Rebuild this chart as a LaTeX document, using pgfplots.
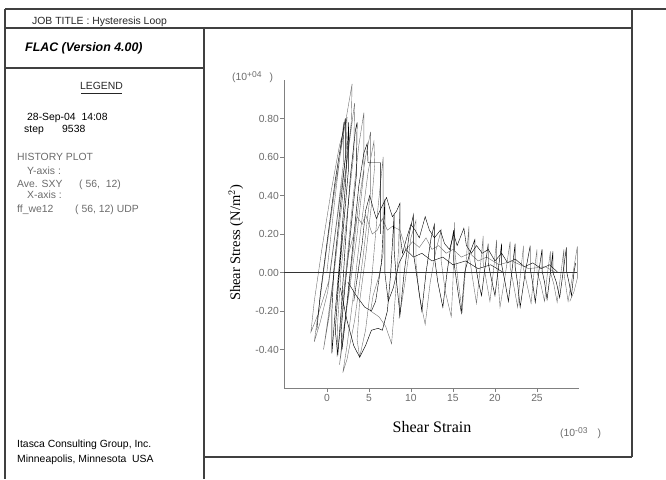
\documentclass[border=0pt]{standalone}
\usepackage{pgfplots}
\pgfplotsset{compat=1.18}
\usepackage{fontspec}
\setmainfont{Liberation Sans}
\newfontfamily\seriffont{Liberation Serif}
\definecolor{frame}{rgb}{0.25,0.25,0.25}
\definecolor{txtgray}{rgb}{0.42,0.42,0.42}
\definecolor{plotgray}{rgb}{0.43,0.43,0.43}
\begin{document}
\begin{tikzpicture}
\path[use as bounding box] (0pt,0pt) rectangle (666pt,479pt);
% frame lines
\begin{scope}[draw=frame, line width=1.1pt, x=1pt, y=1pt]
\draw (5,470) -- (666,470);
\draw (5,451) -- (632,451);
\draw (5,470) -- (5,0);
\draw (204,451) -- (204,0);
\draw (5,411) -- (204,411);
\draw (632,470) -- (632,22);
\draw (204,22) -- (632,22);
\draw[black!85, line width=1pt] (81,385.5) -- (122,385.5);
\end{scope}
% left panel texts
\begin{scope}[x=1pt, y=1pt, every node/.style={anchor=base west, inner sep=0pt, font=\fontsize{10.4}{12}\selectfont}]
\node[text=black!85] at (32,454) {JOB TITLE : Hysteresis Loop};
\node[font=\fontsize{12.4}{14}\selectfont\bfseries\itshape] at (25,427.3) {FLAC (Version 4.00)};
\node[anchor=base, text=black!85] at (101.5,389) {LEGEND};
\node at (27,358) {28-Sep-04\ \ 14:08};
\node at (24,346) {step};
\node at (62,346) {9538};
\node[text=txtgray] at (17,318) {HISTORY PLOT};
\node[text=txtgray] at (27,304) {Y-axis :};
\node[text=txtgray] at (17,291) {Ave. SXY};
\node[text=txtgray] at (79,291) {( 56,\ \ 12)};
\node[text=txtgray] at (27,280) {X-axis :};
\node[text=txtgray] at (17,266) {ff\_we12};
\node[text=txtgray] at (75,266) {( 56, 12) UDP};
\node at (17,32) {Itasca Consulting Group, Inc.};
\node at (17,17) {Minneapolis, Minnesota\ \ USA};
\node[text=txtgray] at (232,398) {(10\raisebox{3.5pt}{\fontsize{8.5}{9}\selectfont +04}\hspace{8pt})};
\node[text=txtgray] at (560,42) {(10\raisebox{3.5pt}{\fontsize{8.5}{9}\selectfont -03}\hspace{10pt})};
\node[font=\seriffont\fontsize{16}{18}\selectfont, anchor=base] at (432,47) {Shear Strain};
\node[font=\seriffont\fontsize{14.5}{16}\selectfont, rotate=90, anchor=base] at (240,236) {Shear Stress (N/m$^2$)};
\end{scope}
\begin{axis}[
  at={(284pt,91pt)}, anchor=south west,
  scale only axis, width=295pt, height=308pt,
  xmin=-5.1, xmax=30, ymin=-0.6, ymax=1.0,
  axis lines*=left,
  axis line style={draw=black!50, line width=0.8pt},
  tick style={draw=black!50, line width=0.6pt},
  major tick length=4pt,
  tick align=outside,
  xtick={0,5,10,15,20,25},
  ytick={-0.4,-0.2,0,0.2,0.4,0.6,0.8},
  /pgf/number format/assume math mode=true,
  yticklabel style={/pgf/number format/fixed, /pgf/number format/fixed zerofill, /pgf/number format/precision=2, inner sep=1pt},
  xticklabel style={inner sep=2pt},
  tick label style={font=\fontsize{10.3}{12}\selectfont, text=txtgray},
  cycle list={{draw=plotgray, line width=0.45pt, solid}},
  every axis plot post/.append style={mark=none},
]
% tall loops
\addplot coordinates {
(0,0) (0.9,0.36) (1.6,0.62) (2.0,0.78)
(2.0,0.58) (1.2,0.28) (0.2,-0.05) (-0.9,-0.2) (-1.9,-0.31)
(-1.5,-0.15) (-0.6,0.12) (0.5,0.42) (1.5,0.66) (2.4,0.80)
(2.3,0.62) (1.3,0.3) (0.1,-0.1) (-0.8,-0.26) (-1.5,-0.36)
(-1.0,-0.2) (-0.1,0.1) (1.0,0.45) (2.1,0.75) (3.0,0.98)
(2.9,0.78) (2.0,0.45) (1.0,0.05) (0.3,-0.22) (-0.4,-0.40)
(0.1,-0.25) (0.9,0.02) (1.9,0.4) (2.7,0.68) (3.3,0.88)
(3.2,0.62) (2.4,0.3) (1.7,0.02) (1.3,-0.25) (1.2,-0.44)
(1.6,-0.3) (2.3,0.02) (3.1,0.38) (3.8,0.66) (4.4,0.83)
(4.4,0.52) (3.6,0.2) (2.6,-0.12) (1.9,-0.32) (1.5,-0.48)
(2.0,-0.33) (2.7,-0.05) (3.7,0.33) (4.6,0.6) (5.2,0.73)
(5.2,0.42) (4.3,0.08) (3.3,-0.25) (2.4,-0.45) (1.9,-0.52)
(2.4,-0.38) (3.2,-0.1) (4.1,0.25) (4.9,0.52) (5.6,0.68)
(5.7,0.56) (5.3,0.35) (4.6,0.08) (3.9,-0.15) (3.6,-0.35) (3.9,-0.44)
(4.6,-0.3) (5.3,-0.05) (6.0,0.3) (6.7,0.60)
(6.7,0.1) (6.2,-0.02) (5.5,-0.12) (5.2,-0.2) (6.2,-0.23) (7.0,-0.28) (7.7,-0.37)
(8.1,-0.15) (8.5,0.1) (8.7,0.36)
(8.7,-0.1) (8.6,-0.24)
(9.3,-0.05) (10.0,0.18) (10.6,0.27) (10.6,0.05) (11.0,-0.12) (11.7,-0.27)
(12.3,-0.05) (13.0,0.12) (13.6,0.22) (13.6,0.06) (14.1,-0.1) (14.8,-0.23)
(15.0,-0.05) (15.2,0.26) (15.2,0.12) (15.6,-0.04) (16.1,-0.2)
(16.5,0.02) (16.9,0.24) (16.9,0.1) (17.3,-0.02) (17.8,-0.16)
(18.2,0.0) (18.6,0.19) (18.6,0.05) (19.0,-0.05) (19.4,-0.15)
(19.8,0.0) (20.2,0.17) (20.2,0.04) (20.4,-0.06) (20.6,-0.18)
(21.2,-0.02) (21.8,0.16) (21.8,0.03) (22.2,-0.06) (22.7,-0.18)
(23.0,-0.02) (23.4,0.14) (23.4,0.02) (23.8,-0.06) (24.3,-0.16)
(24.6,-0.02) (25.0,0.12) (25.0,0.0) (25.4,-0.05) (25.9,-0.15)
(26.2,-0.02) (26.6,0.11) (26.6,0.0) (27.0,-0.06) (27.4,-0.155)
(27.8,-0.02) (28.2,0.12) (28.2,0.0) (28.4,-0.06) (28.7,-0.15)
(29.3,0.0) (29.8,0.135) (29.8,-0.03) (29.4,-0.1) (28.9,-0.15)
};
% extra dense loops near the origin
\addplot coordinates {
(-1.2,-0.3) (-0.8,-0.12) (0.0,0.15) (1.0,0.48) (1.8,0.70) (2.2,0.80)
(2.2,0.6) (1.5,0.3) (0.8,0.0) (0.6,-0.2) (0.6,-0.42)
(1.0,-0.2) (1.6,0.1) (2.2,0.45) (2.6,0.78)
(2.6,0.55) (2.0,0.25) (1.4,-0.05) (1.0,-0.3) (1.3,-0.43)
(1.7,-0.2) (2.2,0.15) (2.8,0.5) (3.4,0.74) (3.6,0.78)
(3.5,0.5) (2.8,0.2) (2.1,-0.1) (1.7,-0.3) (1.8,-0.4)
(2.3,-0.2) (3.0,0.1) (3.8,0.45) (4.4,0.62) (4.8,0.67)
(4.9,0.57) (6.4,0.57) (6.4,0.2)
};
% upper drifting zigzag
\addplot coordinates {
(3.2,-0.15) (3.7,0.0) (4.2,0.15) (4.6,0.32) (5.1,0.40) (5.6,0.32) (5.9,0.28) (6.4,0.33) (7.1,0.39) (7.5,0.33) (7.8,0.29) (8.3,0.32) (8.7,0.36) (8.7,0.2) (9.0,0.1) (9.5,0.18) (10.0,0.25) (10.5,0.22) (11.0,0.18) (11.7,0.29) (12.2,0.22) (12.8,0.18) (13.5,0.22) (14.0,0.15) (14.6,0.12) (15.1,0.2) (15.5,0.14) (16.3,0.23) (16.6,0.14) (17.2,0.1) (17.8,0.14) (18.5,0.1) (19.2,0.12) (20.0,0.06) (20.8,0.1) (21.5,0.05) (22.4,0.07) (23.5,0.03) (24.5,0.05) (25.5,0.02) (26.5,0.04) (27.5,0.0)
};
% middle drifting line
\addplot coordinates {
(2.0,-0.1) (2.6,0.1) (3.2,0.2) (3.6,0.29) (4.2,0.25) (4.6,0.3) (5.4,0.2) (6.0,0.22) (6.6,0.28) (7.2,0.22) (7.8,0.24) (8.7,0.22) (9.4,0.12) (10.2,0.16) (11.0,0.13) (11.8,0.18) (12.5,0.12) (13.3,0.14) (14.2,0.1) (15.0,0.12) (16.0,0.08) (17.0,0.1) (18.0,0.06) (19.0,0.08) (20.5,0.04) (22.0,0.06) (24.0,0.02) (26.0,0.03) (27.2,0.0)
};
% lower wavy curve
\addplot coordinates {
(1.6,-0.08) (2.4,-0.25) (3.2,-0.38) (3.9,-0.44) (4.6,-0.38) (5.3,-0.3) (6.1,-0.29) (6.6,-0.3) (7.2,-0.2) (7.6,0.0) (8.0,0.3) (8.0,0.12) (8.3,-0.05) (8.7,-0.22)
(9.2,0.0) (9.8,0.2) (10.3,0.3) (10.3,0.1) (10.8,-0.05) (11.3,-0.2) (11.8,0.0) (12.4,0.18) (12.8,0.25) (12.8,0.08) (13.2,-0.05) (13.8,-0.18) (14.3,0.0) (14.8,0.15) (15.1,0.22) (15.1,0.06) (15.6,-0.1) (16.0,-0.21) (16.4,0.0) (17.0,0.1) (17.6,0.17) (17.6,0.06) (18.0,-0.04) (18.4,-0.12) (18.8,0.02) (19.2,0.15) (19.2,0.05) (19.6,-0.04) (20.0,-0.12) (20.4,0.02) (20.8,0.15) (20.8,0.04) (21.2,-0.05) (21.6,-0.15) (22.0,0.0) (22.4,0.15) (22.4,0.03) (22.7,-0.06) (23.0,-0.18) (23.6,0.0) (24.2,0.14) (24.2,0.02) (24.5,-0.06) (24.8,-0.155) (25.2,0.0) (25.6,0.12) (25.6,0.01) (25.9,-0.05) (26.2,-0.14) (26.6,0.0) (26.9,0.11) (26.9,0.0) (27.3,-0.05) (27.7,-0.13) (28.1,0.0) (28.5,0.13) (28.5,0.01) (28.8,-0.05) (29.1,-0.12) (29.4,0.0) (29.6,0.05)
};
% another lower curve
\addplot coordinates {
(2.5,-0.05) (3.5,-0.12) (4.5,-0.18) (5.3,-0.2) (5.8,-0.15) (6.5,0.05) (6.9,0.38) (6.9,0.0) (7.3,-0.15) (7.9,-0.08) (8.6,0.05) (9.4,0.12) (10.3,0.08) (11.3,0.1) (12.5,0.06) (13.8,0.08) (15.0,0.04) (16.5,0.06) (18.0,0.02) (19.5,0.04) (21.0,0.0)
};
% zero line
\addplot[draw=black!80, line width=0.7pt] coordinates {(-5.1,0) (29.8,0)};
\end{axis}
\end{tikzpicture}
\end{document}
